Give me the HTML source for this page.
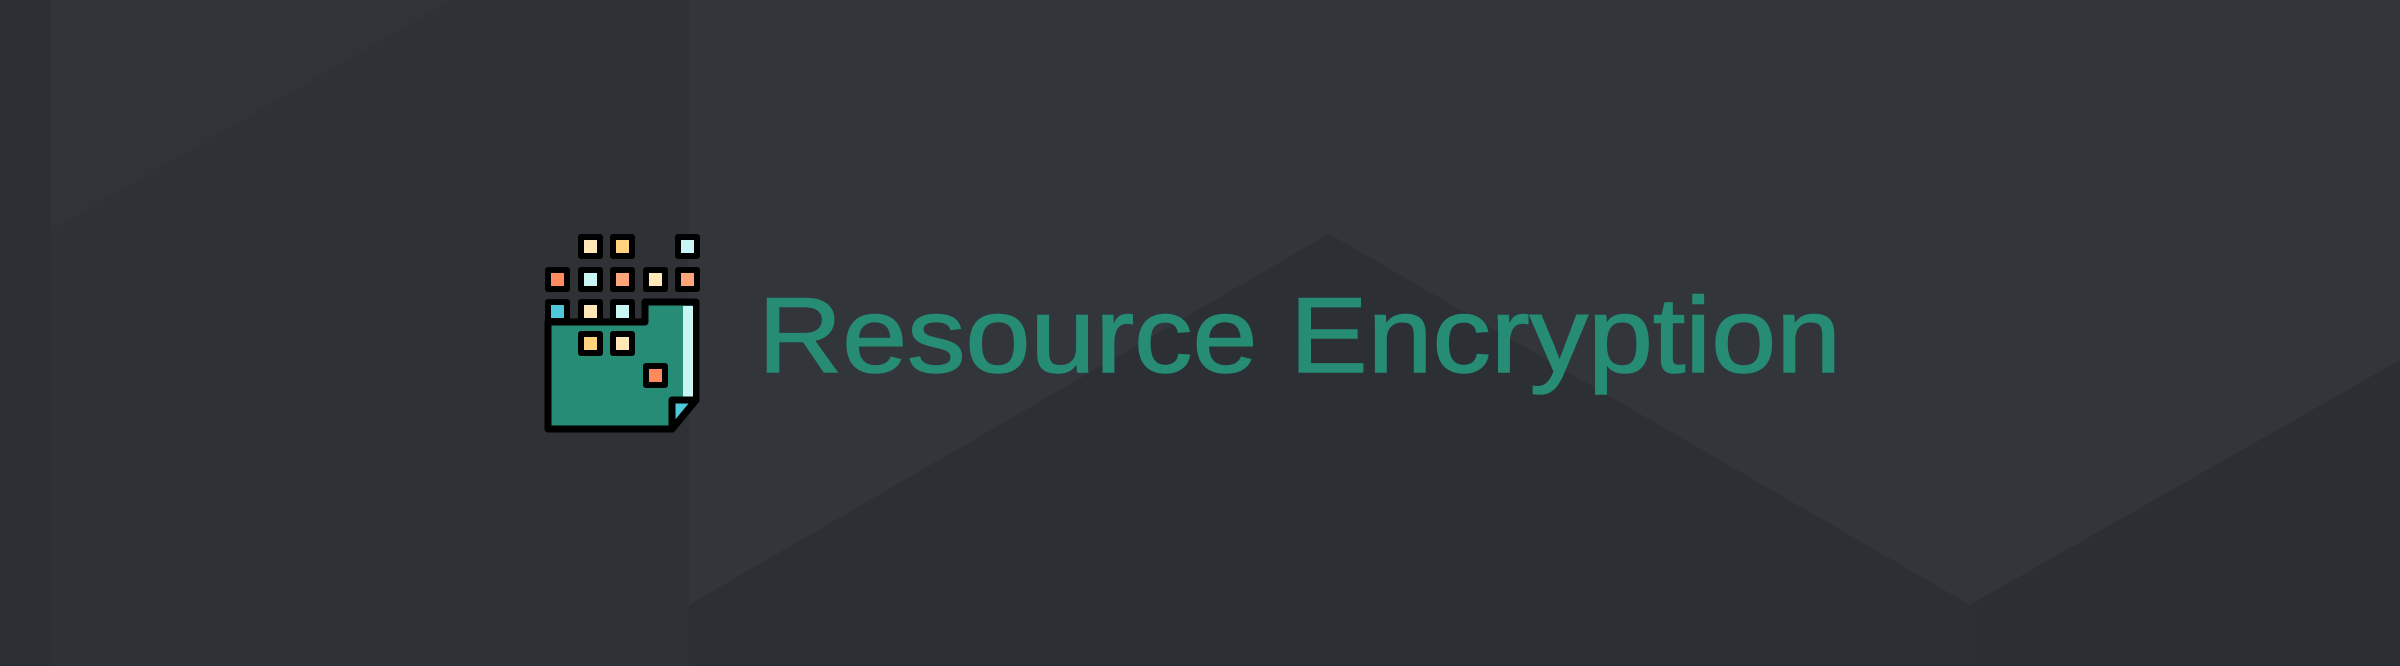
<!DOCTYPE html>
<html><head><meta charset="utf-8"><style>
html,body{margin:0;padding:0;width:2400px;height:666px;overflow:hidden;background:#2e3135}
svg{position:absolute;left:0;top:0}
</style></head><body>
<svg width="2400" height="666" viewBox="0 0 2400 666">
<rect width="2400" height="666" fill="#2e3135"/>
<polygon points="0,0 51,0 51,666 0,666" fill="#2c2f33"/>
<polygon points="51,0 452,0 51,230" fill="#303338"/>
<polygon points="689,0 2400,0 2400,360 1970,605 1329,234 689,605" fill="#32363a"/>
<polygon points="689,605 1329,234 1970,605 1970,666 689,666" fill="#2c2f33"/>
<polygon points="1970,605 2400,360 2400,666 1970,666" fill="#2b2e32"/>
<g stroke="#000" stroke-width="7" stroke-linejoin="round">
<path d="M548,322 H645 V302 H696 V400 L672,429 H548 Z" fill="#268c75"/>
<rect x="683" y="306" width="10" height="94" fill="#c9f6f5" stroke="none"/>
<path d="M672,400 H696 L672,429 Z" fill="#4ec9da"/>
</g>
<g stroke="#000" stroke-width="6" stroke-linejoin="round">
<rect x="581" y="237" width="19" height="19" fill="#ffe8b5"/>
<rect x="613" y="237" width="19" height="19" fill="#ffd27e"/>
<rect x="678" y="237" width="19" height="19" fill="#c9f6f5"/>
<rect x="548" y="270" width="19" height="19" fill="#ff8a5c"/>
<rect x="581" y="270" width="19" height="19" fill="#c9f6f5"/>
<rect x="613" y="270" width="19" height="19" fill="#ffa57a"/>
<rect x="646" y="270" width="19" height="19" fill="#ffe8b5"/>
<rect x="678" y="270" width="19" height="19" fill="#ffa57a"/>
<rect x="548" y="302" width="19" height="19" fill="#4ec9da"/>
<rect x="581" y="302" width="19" height="19" fill="#ffe8b5"/>
<rect x="613" y="302" width="19" height="19" fill="#c9f6f5"/>
<rect x="581" y="334" width="19" height="19" fill="#ffd27e"/>
<rect x="613" y="334" width="19" height="19" fill="#ffe8b5"/>
<rect x="646" y="366" width="19" height="19" fill="#ff8a5c"/>
</g>
<text x="758" y="372" font-family="Liberation Sans, sans-serif" font-size="107" fill="#268c74" stroke="#268c74" stroke-width="1.5" textLength="1083" lengthAdjust="spacingAndGlyphs">Resource Encryption</text>
</svg>
</body></html>
